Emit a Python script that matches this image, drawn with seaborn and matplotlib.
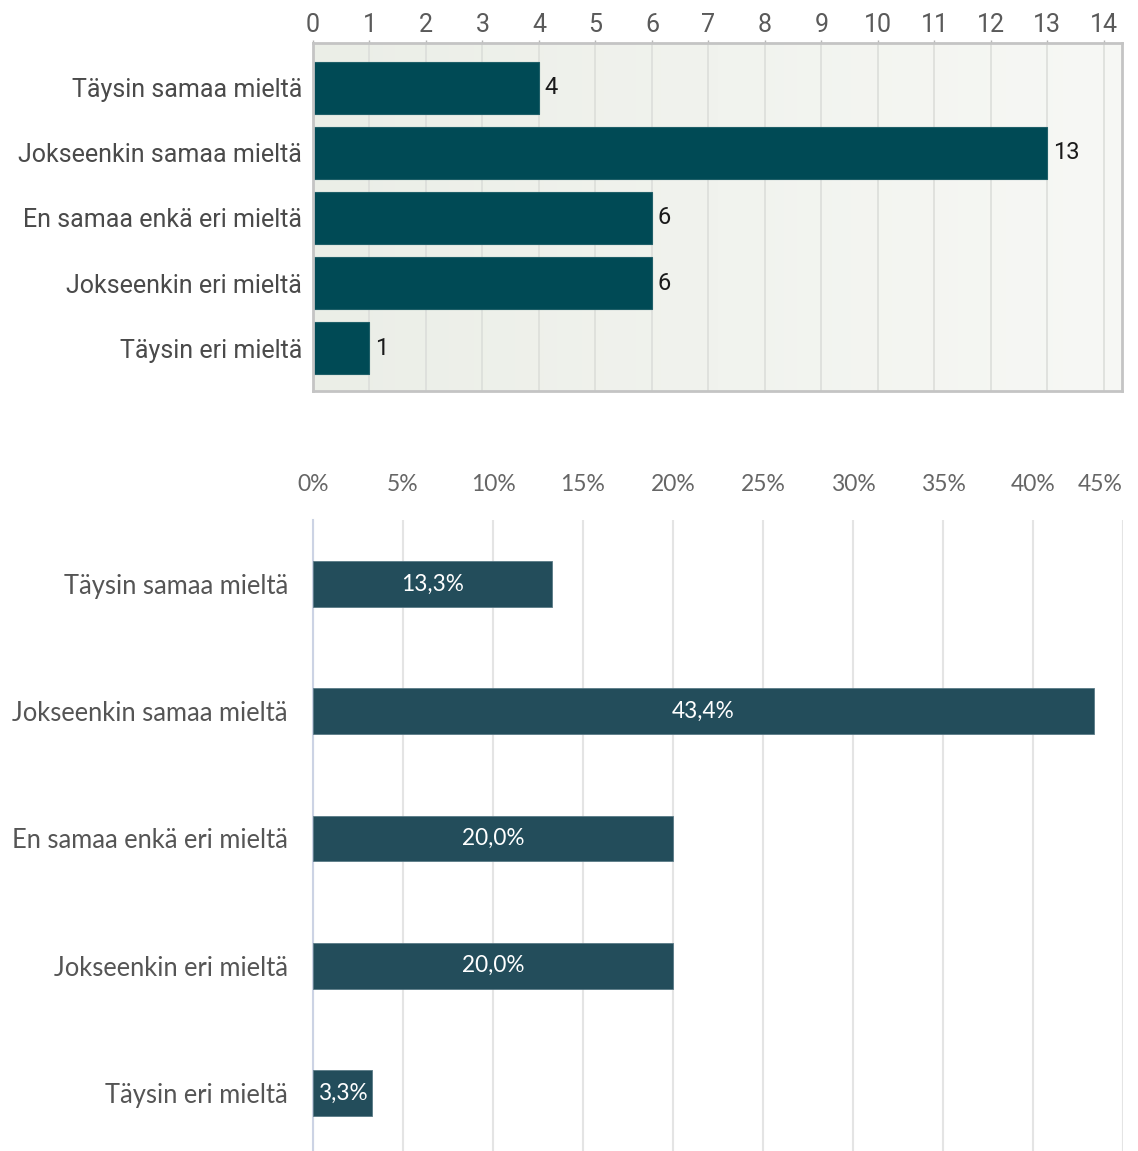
import numpy as np
import pandas as pd
import matplotlib
matplotlib.use("Agg")
import matplotlib.pyplot as plt
from matplotlib.colors import LinearSegmentedColormap
import seaborn as sns

# Survey answers (Likert scale), counts and shares
categories = [
    "Täysin samaa mieltä",
    "Jokseenkin samaa mieltä",
    "En samaa enkä eri mieltä",
    "Jokseenkin eri mieltä",
    "Täysin eri mieltä",
]
counts = [4, 13, 6, 6, 1]
shares = [13.3, 43.4, 20.0, 20.0, 3.3]
count_ticks = list(range(0, 15))
share_ticks = [0, 5, 10, 15, 20, 25, 30, 35, 40, 45]
share_tick_labels = [f"{t}%" for t in share_ticks]

df = pd.DataFrame({"vastaus": categories, "lkm": counts, "osuus": shares})

sns.set_theme(style="white")
W, H = 1138, 1151
fig = plt.figure(figsize=(W / 100, H / 100), dpi=100, facecolor="white")


def box(left, top, right, bottom):
    return [left / W, 1 - bottom / H, (right - left) / W, (bottom - top) / H]


# ---------- upper chart: counts ----------
ax1 = fig.add_axes(box(313, 43, 1122, 391))
# soft horizontal background gradient of the plot area
bg = LinearSegmentedColormap.from_list("bg", ["#ebeee7", "#f7f8f5"])
ax1.imshow(np.linspace(0, 1, 256)[None, :], cmap=bg, aspect="auto",
           extent=(0, 14.32, 4.66, -0.69), zorder=0)
sns.barplot(data=df, x="lkm", y="vastaus", orient="h", color="#004a55",
            saturation=1, width=0.8, edgecolor="#1f5f68", linewidth=0.8,
            ax=ax1, zorder=3)
ax1.set_xlim(0, 14.32)
ax1.set_ylim(4.66, -0.69)
ax1.set_xticks(count_ticks)
ax1.set_xticklabels([str(t) for t in count_ticks])
ax1.xaxis.tick_top()
ax1.grid(axis="x", color="#dcdeda", lw=1.2, zorder=1)
ax1.tick_params(axis="x", length=2.5, width=1, color="#b5b5b5", pad=2,
                labelsize=18, labelcolor="#5a5a5a")
ax1.tick_params(axis="y", length=0, pad=8, labelsize=18, labelcolor="#4a4a4a")
for lab in ax1.get_xticklabels() + ax1.get_yticklabels():
    lab.set_fontfamily("Roboto")
for s in ax1.spines.values():
    s.set_color("#c4c4c4")
    s.set_linewidth(2)
    s.set_zorder(4)
ax1.set_xlabel("")
ax1.set_ylabel("")
for c in ax1.containers:
    ax1.bar_label(c, labels=[str(v) for v in counts], padding=4,
                  fontsize=17, color="#1a1a1a", fontfamily="Roboto")

# ---------- lower chart: shares ----------
ax2 = fig.add_axes(box(313, 520, 1123, 1151))
sns.barplot(data=df, x="osuus", y="vastaus", orient="h", color="#234d5b",
            saturation=1, width=0.36, edgecolor="#5a7a86", linewidth=0.6,
            ax=ax2, zorder=3)
ax2.set_xlim(0, 45)
ax2.set_ylim(4.456, -0.503)
ax2.set_xticks(share_ticks)
ax2.set_xticklabels(share_tick_labels)
ax2.xaxis.tick_top()
ax2.grid(axis="x", color="#e4e4e4", lw=1.5, zorder=0)
ax2.set_axisbelow(True)
ax2.tick_params(axis="x", length=0, pad=18, labelsize=16.5, labelcolor="#666666")
ax2.tick_params(axis="y", length=0, pad=18, labelsize=18.4, labelcolor="#555555")
for lab in ax2.get_xticklabels() + ax2.get_yticklabels():
    lab.set_fontfamily("Lato")
ax2.get_xticklabels()[-1].set_horizontalalignment("right")
for name, s in ax2.spines.items():
    s.set_visible(name == "left")
ax2.spines["left"].set_color("#ccd3e4")
ax2.spines["left"].set_linewidth(1.5)
ax2.set_xlabel("")
ax2.set_ylabel("")
for c in ax2.containers:
    ax2.bar_label(c, labels=[f"{v:.1f}".replace(".", ",") + "%" for v in shares],
                  label_type="center", fontsize=16.3, color="white",
                  fontfamily="Lato")

fig.savefig("out.png", dpi=100, facecolor="white")
